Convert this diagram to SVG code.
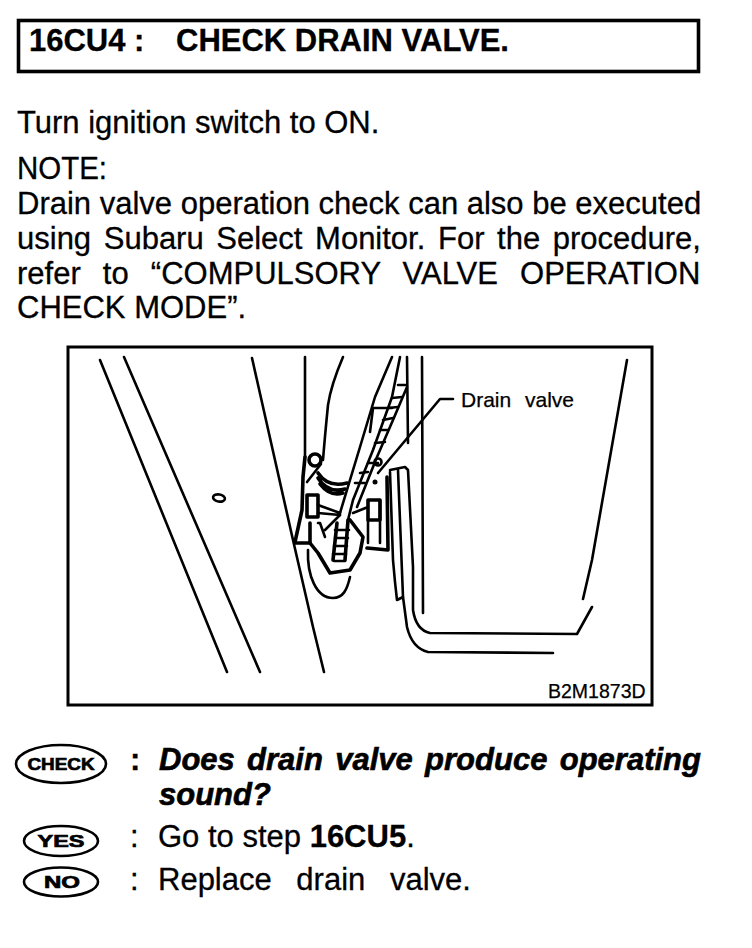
<svg xmlns="http://www.w3.org/2000/svg" width="752" height="948" viewBox="0 0 752 948">
<style>
text{font-family:"Liberation Sans",Arial,sans-serif;fill:#000}
.b{font-size:31px;stroke:#000;stroke-width:.3px}
.bt{font-size:31px;font-weight:bold;stroke:#000;stroke-width:.3px}
.bi{font-size:31px;font-weight:bold;font-style:italic;stroke:#000;stroke-width:.6px}
.s{stroke:#000;stroke-width:.25px}
.l{fill:none;stroke:#000;stroke-width:2.600;stroke-linecap:round;stroke-linejoin:round}
.t{fill:none;stroke:#000;stroke-width:3.600;stroke-linecap:round;stroke-linejoin:round}
.o{fill:#fff;stroke:#000;stroke-width:2.600}
.k{font-weight:bold;text-anchor:middle;stroke:#000;stroke-width:.7px}
</style>
<rect width="752" height="948" fill="#fff"/>
<g id="title">
<rect x="18.500" y="20.500" width="680" height="51" fill="none" stroke="#000" stroke-width="3.600"/>
<text class="bt" x="29" y="51">16CU4 :</text>
<text class="bt" x="176" y="51">CHECK DRAIN VALVE.</text>
</g>
<g id="body">
<text class="b" x="17" y="133">Turn ignition switch to ON.</text>
<text class="b" x="17" y="179" textLength="90" lengthAdjust="spacingAndGlyphs">NOTE:</text>
<text class="b" x="17" y="214">Drain valve operation check can also be executed</text>
<text class="b" x="17" y="249" word-spacing="4">using Subaru Select Monitor. For the procedure,</text>
<text class="b" x="17" y="284" word-spacing="13.500">refer to “COMPULSORY VALVE OPERATION</text>
<text class="b" x="17" y="318">CHECK MODE”.</text>
</g>
<g id="figure">
<rect x="68" y="347" width="584" height="358" fill="#fff" stroke="#000" stroke-width="3"/>
<path class="l" d="M100 360L227 672"/>
<path class="l" d="M124 357L260 672"/>
<path class="l" d="M252 358L293 540L313 627L324 672"/>
<ellipse cx="219" cy="498" rx="6" ry="3.500" class="l" transform="rotate(10 219 498)"/>
<path class="l" d="M305 357V457"/>
<path class="l" d="M343 357Q331 385 328 405Q325 435 323 460"/>
<path class="l" d="M392 357L375 397L360 447L340 513"/>
<path class="l" d="M400 357L392 397L373 450L353 500L348 520"/>
<path class="l" d="M407 387L393 420L377 457L357 507"/>
<path class="l" d="M398 385L406 385M392 398L402 397M388 408L398 407M383 420L393 418M380 430L388 430M375 443L385 442M368 463L378 463M360 473L368 472M355 483L365 483"/>
<path class="l" d="M373 408H392M373 408L370 432"/>
<path class="l" d="M407 357L408 443"/>
<path class="l" d="M422 357L423 613"/>
<path class="l" d="M390 470L405 467L408 470L413 567L413 610Q416 630 430 633L577 634L592 607"/>
<path class="l" d="M398 470L403 597"/>
<path class="l" d="M390 472L393 560L395 582L397 600L403 597L407 627Q412 648 428 652L553 653"/>
<path class="l" d="M627 360L592 560L583 599"/>
<path class="t" d="M387 477L388 550L367 548"/>
<path class="l" d="M380 500L380 543M368 520L368 543"/>
<!-- valve body -->
<path class="t" d="M305 457L303 477L302 510L295 542"/>
<path class="t" d="M295 543H310"/>
<circle cx="315" cy="460" r="6" class="t"/>
<path class="l" d="M321 464L307 482"/>
<path class="t" d="M318 473Q328 488 347 483M318 478Q328 494 345 489M320 484Q330 497 343 493"/>
<path class="t" d="M307 495H318V517H307ZM368 500H380V520H368Z"/>
<path class="l" d="M318 505L340 513M318 513L340 515M353 513L368 507"/>
<path class="t" d="M310 523V543L318 553L330 573L350 570L360 553L363 537L350 520"/>
<path class="l" d="M318 523H320L325 537M340 515L325 530"/>
<path class="l" d="M308 550C307 575 316 598 333 598C343 598 347 590 350 577"/>
<!-- corrugated hose -->
<path class="t" d="M337 523L333 560M348 520L345 560"/>
<path class="l" d="M335 530H349M335 538H348M334 546H347M333 554H346M334 561H345"/>
<circle cx="375" cy="482" r="2.500" fill="#000"/>
<circle cx="378" cy="462" r="3.500" class="l"/>
<path class="l" d="M378 473L440 399H453"/>
<text class="s" x="461" y="407" font-size="21" word-spacing="8">Drain valve</text>
<text class="s" x="548" y="698" font-size="19.500">B2M1873D</text>
</g>
<g id="check">
<ellipse cx="61" cy="764" rx="45" ry="19" class="o"/>
<text class="k" x="61" y="770" font-size="17" textLength="67" lengthAdjust="spacingAndGlyphs">CHECK</text>
<text class="bt" x="130" y="770">:</text>
<text class="bi" x="159" y="770" word-spacing="3.700">Does drain valve produce operating</text>
<text class="bi" x="159" y="805">sound?</text>
</g>
<g id="yes">
<ellipse cx="61" cy="841" rx="37" ry="15" class="o"/>
<text class="k" x="61" y="847" font-size="17" textLength="47" lengthAdjust="spacingAndGlyphs">YES</text>
<text class="b" x="130" y="847">:</text>
<text class="b" x="158" y="847">Go to step <tspan font-weight="bold">16CU5</tspan>.</text>
</g>
<g id="no">
<ellipse cx="61" cy="882" rx="37" ry="14.500" class="o"/>
<text class="k" x="62" y="888" font-size="17" textLength="36" lengthAdjust="spacingAndGlyphs">NO</text>
<text class="b" x="130" y="890">:</text>
<text class="b" x="158" y="890" word-spacing="16">Replace drain valve.</text>
</g>
</svg>
